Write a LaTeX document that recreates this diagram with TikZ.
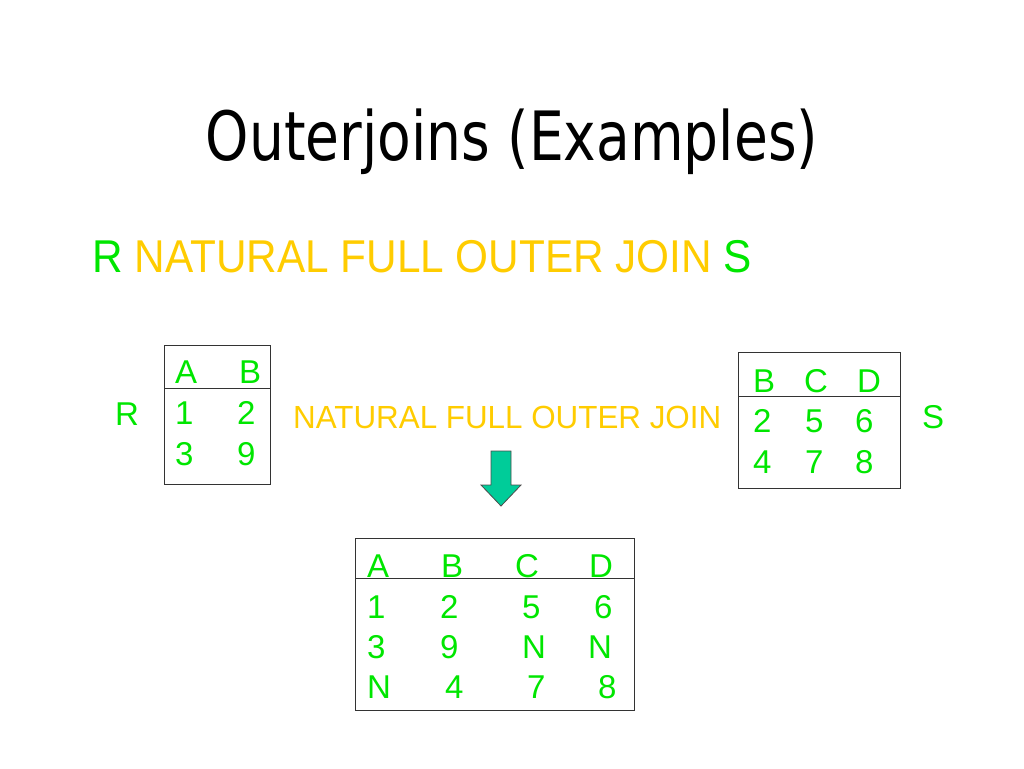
\documentclass[tikz,border=0pt]{standalone}
\usepackage{fontspec}
\setmainfont{Liberation Sans}
\newfontfamily\titlefont{DejaVu Sans}
\definecolor{grn}{RGB}{0,230,0}
\definecolor{ylw}{RGB}{255,204,0}
\definecolor{teal2}{RGB}{0,204,153}
\begin{document}
\begin{tikzpicture}[x=1pt,y=-1pt,
  t/.style={anchor=base west,inner sep=0pt,text=grn,font=\fontsize{33}{33}\selectfont},
  box/.style={draw=black!80,line width=1pt}]
\useasboundingbox (0,0) rectangle (1024,768);
\node[anchor=base,inner sep=0pt,xscale=0.81,font=\titlefont\fontsize{68}{68}\selectfont] (title) at (512,160) {Outerjoins (Examples)};
\node[anchor=base west,inner sep=0pt,xscale=0.92,font=\fontsize{46}{46}\selectfont] (head) at (92,272) {\textcolor{grn}{R} \textcolor{ylw}{NATURAL FULL OUTER JOIN} \textcolor{grn}{S}};
% R table
\draw[box] (164,345) rectangle (270,484);
\draw[box] (164,388) -- (270,388);
\node[t] (rl) at (115,425) {R};
\node[t] at (175,383) {A}; \node[t] at (239,383) {B};
\node[t] at (175,424) {1}; \node[t] at (237,424) {2};
\node[t] at (175,465) {3}; \node[t] at (237,465) {9};
\node[t,text=ylw,xscale=0.98,font=\fontsize{32}{32}\selectfont] (op) at (293,428) {NATURAL FULL OUTER JOIN};
% S table
\draw[box] (738,352) rectangle (900,488);
\draw[box] (738,396) -- (900,396);
\node[t] at (753,392) {B}; \node[t] at (804,392) {C}; \node[t] at (857,392) {D};
\node[t] at (753,432) {2}; \node[t] at (805,432) {5}; \node[t] at (855,432) {6};
\node[t] at (753,473) {4}; \node[t] at (805,473) {7}; \node[t] at (855,473) {8};
\node[t] (sl) at (922,428) {S};
% arrow
\filldraw[fill=teal2,draw=black!70,line width=0.8pt] (491,451) -- (511,451) -- (511,485) -- (521,485) -- (501,506) -- (481,485) -- (491,485) -- cycle;
% result
\draw[box] (355,538) rectangle (634,710);
\draw[box] (355,578) -- (634,578);
\node[t] at (367,577) {A}; \node[t] at (441,577) {B}; \node[t] at (515,577) {C}; \node[t] at (589,577) {D};
\node[t] at (367,618) {1}; \node[t] at (440,618) {2}; \node[t] at (522,618) {5}; \node[t] at (594,618) {6};
\node[t] at (367,658) {3}; \node[t] at (440,658) {9}; \node[t] at (522,658) {N}; \node[t] at (588,658) {N};
\node[t] at (367,698) {N}; \node[t] at (445,698) {4}; \node[t] at (527,698) {7}; \node[t] at (598,698) {8};
\end{tikzpicture}
\end{document}
